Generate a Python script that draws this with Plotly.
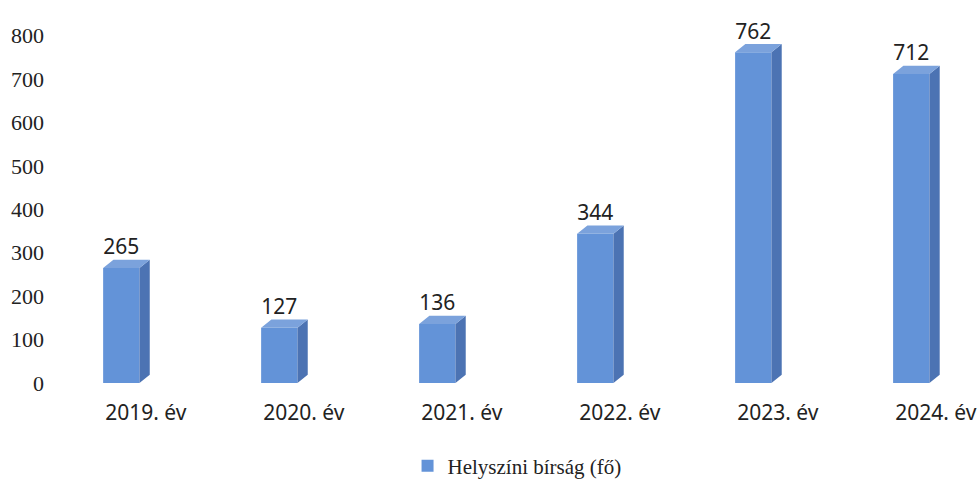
import plotly.graph_objects as go

# data
years = ["2019. év", "2020. év", "2021. év", "2022. év", "2023. év", "2024. év"]
values = [265, 127, 136, 344, 762, 712]
series_name = "Helyszíni bírság (fő)"
y_ticks = [0, 100, 200, 300, 400, 500, 600, 700, 800]

# fake 3D look: front face sits left of the tick, side/top faces add depth
FRONT_L, FRONT_R = -0.27, -0.04
DEPTH_X, DEPTH_Y = 0.065, 19
FRONT = "#6393d8"
SIDE = "#4c73b3"
TOP = "#7ba2dc"

xs = list(range(len(years)))

side_x, side_y, top_x, top_y = [], [], [], []
for i, v in zip(xs, values):
    r = i + FRONT_R
    l = i + FRONT_L
    side_x += [r, r + DEPTH_X, r + DEPTH_X, r, r, None]
    side_y += [0, DEPTH_Y, v + DEPTH_Y, v, 0, None]
    top_x += [l, r, r + DEPTH_X, l + DEPTH_X, l, None]
    top_y += [v, v, v + DEPTH_Y, v + DEPTH_Y, v, None]

fig = go.Figure()
fig.add_bar(
    x=xs, y=values, offset=FRONT_L, width=FRONT_R - FRONT_L,
    marker=dict(color=FRONT, line=dict(width=0)),
    name=series_name, hoverinfo="skip",
)
fig.add_scatter(x=side_x, y=side_y, fill="toself", fillcolor=SIDE, mode="lines",
                line=dict(width=0), showlegend=False, hoverinfo="skip")
fig.add_scatter(x=top_x, y=top_y, fill="toself", fillcolor=TOP, mode="lines",
                line=dict(width=0), showlegend=False, hoverinfo="skip")
fig.add_scatter(
    x=[i + (FRONT_L + FRONT_R) / 2 for i in xs],
    y=[v + DEPTH_Y for v in values],
    text=[str(v) for v in values], mode="text", textposition="top center",
    textfont=dict(family="Noto Sans", size=21, color="#222"),
    showlegend=False, hoverinfo="skip", cliponaxis=False,
)

fig.update_layout(
    width=980, height=486,
    margin=dict(l=51, r=0, t=14, b=103),
    paper_bgcolor="white", plot_bgcolor="white",
    showlegend=True,
    legend=dict(
        orientation="h", xref="container", yref="container",
        x=0.5276, y=0.041, xanchor="center", yanchor="middle",
        font=dict(family="Liberation Serif", size=21, color="#222"),
    ),
    xaxis=dict(
        range=[-0.6, 5.28], tickvals=xs, ticktext=years,
        showgrid=False, zeroline=False, showline=False,
        tickfont=dict(family="Noto Sans", size=21, color="#222"),
        ticks="", ticklabelstandoff=15,
    ),
    yaxis=dict(
        range=[0, 850], tickvals=y_ticks,
        showgrid=False, zeroline=False, showline=False,
        tickfont=dict(family="Liberation Serif", size=22, color="#222"),
        ticks="", ticklabelstandoff=6,
    ),
)

# drop the browser's default body margin so the 980x486 figure fills the window
fig.write_html(
    "out.html",
    config={"displayModeBar": False},
    post_script="document.body.style.margin = '0';",
)
